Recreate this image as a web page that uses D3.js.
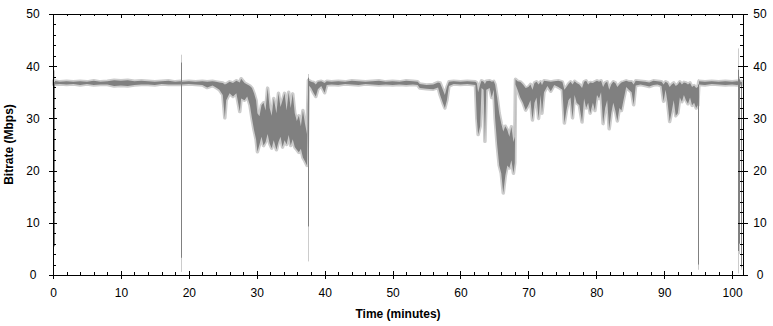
<!DOCTYPE html>
<html>
<head>
<meta charset="utf-8">
<script src="https://cdn.jsdelivr.net/npm/d3@7"></script>
<style>
  body { margin: 0; background: #fff; }
</style>
</head>
<body>
<div id="chart"></div>
<script>
// Sample times (minutes) with the lowest / highest bitrate (Mbps) seen around each one.
const timeMin = [
    0.1, 1, 2, 3, 4, 5, 6, 7, 8, 9,
    10, 11, 12, 13, 14, 15, 16, 17, 18, 18.8,
    19.0, 20, 21, 22, 22.7, 23.5, 24, 24.5, 25, 25.3,
    25.5, 26, 26.5, 27, 27.5, 27.7, 28.2, 28.6, 29.0, 29.3,
    29.6, 29.9, 30.1, 30.4, 30.7, 31.0, 31.3, 31.6, 31.9, 32.2,
    32.5, 32.9, 33.2, 33.5, 33.8, 34.1, 34.4, 34.7, 35.0, 35.3,
    35.6, 35.9, 36.2, 36.5, 36.8, 37.1, 37.4, 37.6, 38.0, 38.4,
    38.7, 39.0, 39.5, 40.0, 40.3, 41, 42, 43, 44, 45,
    46, 47, 48, 49, 50, 51, 52, 53, 53.7, 54.0,
    55, 56, 56.7, 57.0, 57.4, 57.7, 58.0, 58.3, 59, 60,
    61, 62.2, 62.4, 62.6, 62.9, 63.1, 63.4, 63.6, 63.8, 64.3,
    64.6, 64.9, 65.1, 65.4, 65.7, 66.0, 66.3, 66.6, 66.9, 67.2,
    67.5, 67.8, 68.0, 68.1, 68.4, 68.8, 69.2, 69.6, 70.0, 70.3,
    70.6, 70.9, 71.2, 71.5, 71.8, 72.0, 72.3, 72.8, 73.3, 73.8,
    74.4, 75.0, 75.3, 75.6, 75.9, 76.2, 76.5, 76.8, 77.1, 77.5,
    77.9, 78.2, 78.5, 78.8, 79.1, 79.5, 79.8, 80.1, 80.4, 80.7,
    81.0, 81.3, 81.6, 81.9, 82.2, 82.5, 82.8, 83.1, 83.4, 83.7,
    84.0, 84.4, 84.8, 85.2, 85.5, 85.8, 86.5, 87.2, 87.8, 88.4,
    89.0, 89.6, 89.9, 90.2, 90.5, 90.8, 91.1, 91.4, 91.7, 92.0,
    92.3, 92.6, 92.9, 93.2, 93.5, 93.8, 94.1, 94.4, 94.7, 94.95,
    95.1, 96, 97, 98, 99, 100, 100.7, 101.45
];
const rateLow = [
    36.5, 36.6, 36.5, 36.6, 36.4, 36.6, 36.4, 36.5, 36.5, 36.2,
    36.3, 36.2, 36.4, 36.5, 36.5, 36.4, 36.6, 36.5, 36.5, 36.5,
    36.5, 36.6, 36.5, 36.4, 35.9, 36.3, 35.9, 35.5, 34.5, 30.1,
    33.5, 34.8, 34.2, 34.8, 31.3, 33.8, 33.5, 34.2, 32.5, 30.0,
    27.8, 26.0, 23.6, 25.0, 26.5, 24.8, 25.5, 27.0, 25.2, 24.3,
    25.8, 24.0, 25.5, 26.5, 24.5, 25.8, 25.0, 26.8, 24.8, 26.0,
    24.5, 24.0, 23.5, 24.2, 22.5, 21.8, 21.0, 36.4, 35.8, 34.8,
    34.2, 35.6, 36.2, 34.9, 36.4, 36.5, 36.4, 36.6, 36.5, 36.4,
    36.6, 36.5, 36.4, 36.5, 36.4, 36.5, 36.4, 36.5, 36.4, 35.8,
    35.7, 35.6, 35.9, 34.5, 33.0, 32.0, 33.5, 36.2, 36.6, 36.5,
    36.6, 36.4, 30.0, 26.9, 28.5, 35.8, 35.5, 25.6, 35.5, 35.8,
    34.0, 35.5, 30.0, 25.0, 21.0, 19.5, 15.7, 19.0, 21.0, 20.5,
    22.0, 19.5, 21.5, 36.5, 35.5, 34.0, 33.0, 31.6, 32.5, 33.5,
    29.7, 33.0, 34.0, 30.0, 34.5, 31.0, 35.0, 36.2, 35.2, 36.4,
    36.0, 35.5, 29.1, 31.5, 33.5, 34.0, 30.1, 34.5, 33.0, 32.5,
    29.3, 33.8, 32.0, 33.0, 31.0, 33.0, 31.5, 34.5, 33.8, 35.0,
    29.0, 32.0, 33.5, 28.0, 31.0, 33.0, 31.5, 29.5, 32.0, 31.5,
    33.5, 36.0, 35.5, 35.0, 32.6, 36.3, 36.5, 36.3, 36.1, 36.4,
    36.5, 36.2, 33.3, 35.5, 33.0, 29.4, 31.3, 33.5, 30.5, 31.0,
    34.0, 33.2, 34.5, 33.5, 32.8, 34.0, 32.5, 33.0, 32.0, 32.5,
    36.5, 36.4, 36.6, 36.5, 36.4, 36.5, 36.4, 36.5
];
const rateHigh = [
    37.2, 37.0, 37.1, 37.0, 37.1, 37.0, 37.2, 37.0, 37.1, 37.3,
    37.2, 37.3, 37.1, 37.2, 37.1, 37.0, 37.1, 37.2, 37.0, 37.1,
    37.0, 37.1, 37.0, 37.1, 37.0, 37.1, 37.0, 36.9, 36.8, 36.5,
    36.6, 37.0, 36.8, 37.2, 36.9, 37.6, 36.8, 36.5, 36.2, 35.8,
    34.8, 33.5, 31.0, 30.4, 32.5, 33.0, 31.5, 35.8, 32.0, 30.5,
    33.8, 31.0, 34.8, 32.2, 33.5, 34.8, 31.5, 35.0, 32.0, 34.7,
    31.0, 29.5, 30.5, 28.5, 31.5, 29.0, 27.0, 37.3, 37.0, 36.9,
    36.5, 37.0, 37.1, 36.8, 37.1, 37.0, 37.1, 37.0, 37.2, 37.1,
    37.0, 37.1, 37.2, 37.0, 37.1, 37.0, 37.2, 37.1, 37.0, 36.6,
    36.4, 36.5, 36.9, 36.8, 35.5, 34.5, 36.0, 37.0, 37.1, 37.0,
    37.1, 37.0, 36.8, 35.0, 36.5, 37.2, 37.0, 36.6, 37.1, 37.2,
    37.0, 37.1, 36.5, 34.0, 31.0, 29.0, 27.5, 28.5, 27.8, 26.5,
    28.4, 25.5, 26.5, 37.5, 37.1, 37.0, 36.5, 35.8, 36.0, 36.5,
    35.5, 36.8, 37.0, 36.5, 37.0, 36.4, 37.2, 37.1, 37.0, 37.1,
    37.2, 37.0, 35.5, 36.0, 36.6, 37.0, 36.5, 37.1, 36.8, 36.5,
    35.8, 37.0, 37.2, 36.5, 36.9, 36.8, 37.0, 37.2, 37.0, 37.2,
    36.0, 36.8, 37.0, 35.5, 36.5, 37.0, 36.8, 36.0, 36.5, 36.9,
    37.0, 37.2, 37.0, 37.0, 36.5, 37.2, 37.1, 37.0, 36.9, 37.2,
    37.1, 37.0, 36.5, 37.0, 36.8, 36.0, 36.5, 36.8, 36.2, 36.5,
    37.0, 36.5, 36.9, 36.8, 36.5, 36.8, 36.0, 36.3, 35.8, 36.0,
    37.1, 37.0, 37.1, 37.0, 37.1, 37.0, 37.1, 37.0
];

// Single-sample dropouts / spikes, drawn as 1px vertical strokes.
const dropTime = [0.15, 18.9, 37.5, 95.0, 100.85, 101.05, 101.3];
const dropLow = [5.5, 3.3, 9.3, 2.0, 4.6, 6.0, 1.5];
const dropHigh = [37.0, 40.7, 37.8, 36.5, 39.3, 37.5, 37.0];
const dropLightLow = [5.5, 0.6, 2.6, 1.0, 0.3, 4.0, 1.0];
const dropLightHigh = [39.2, 42.2, 38.5, 37.5, 43.4, 38.0, 37.5];

const xTicks = [0, 10, 20, 30, 40, 50, 60, 70, 80, 90, 100];
const yTicks = [0, 10, 20, 30, 40, 50];

function BitrateChart({
    width=773,
    height=326,
    marginTop=14,
    marginRight=30,
    marginBottom=51,
    marginLeft=53,
    xDomain=[0, 101.6],
    yDomain=[0, 50],
    dark="#808080",
    light="#cccccc",
    font="'Liberation Sans', Arial, sans-serif"
}={}) {
    const xScale=d3.scaleLinear(xDomain, [marginLeft, width-marginRight]);
    const yScale=d3.scaleLinear(yDomain, [height-marginBottom, marginTop]);

    // minor ticks every 2 units, majors skipped
    const xMinor=d3.range(0, xDomain[1], 2).filter(d => d%10);
    const yMinor=d3.range(0, yDomain[1], 2).filter(d => d%10);

    const svg=d3.create("svg")
        .attr("width", width)
        .attr("height", height)
        .attr("viewBox", [0, 0, width, height]);

    // Bitrate envelope: light halo underneath, dark band on top.
    const I=d3.range(timeMin.length);
    const area=d3.area()
        .x(i => xScale(timeMin[i]))
        .y0(i => yScale(rateLow[i]))
        .y1(i => yScale(rateHigh[i]));

    svg.append("path")
        .attr("fill", light)
        .attr("stroke", light)
        .attr("stroke-width", 3.5)
        .attr("stroke-linejoin", "round")
        .attr("d", area(I));

    svg.append("path")
        .attr("fill", dark)
        .attr("d", area(I));

    const J=d3.range(dropTime.length);
    const px=j => Math.round(xScale(dropTime[j]))+0.5;

    svg.append("g")
        .attr("stroke", light)
      .selectAll("line")
      .data(J)
      .join("line")
        .attr("x1", px).attr("x2", px)
        .attr("y1", j => yScale(dropLightLow[j]))
        .attr("y2", j => yScale(dropLightHigh[j]));

    svg.append("g")
        .attr("stroke", dark)
      .selectAll("line")
      .data(J)
      .join("line")
        .attr("x1", px).attr("x2", px)
        .attr("y1", j => yScale(dropLow[j]))
        .attr("y2", j => yScale(dropHigh[j]));

    const styleAxis=g => g
        .attr("font-family", font)
        .attr("font-size", 12)
        .call(g => g.selectAll(".tick line").attr("shape-rendering", "crispEdges"))
        .call(g => g.select(".domain").attr("shape-rendering", "crispEdges"));
    const bare=g => g.call(g => g.select(".domain").remove()).call(g => g.selectAll("text").remove());

    // bottom
    const y0=height-marginBottom;
    svg.append("g")
        .attr("transform", `translate(0,${y0})`)
        .call(d3.axisBottom(xScale).tickValues(xTicks).tickSize(4).tickSizeOuter(0).tickPadding(9))
        .call(styleAxis);
    svg.append("g")
        .attr("transform", `translate(0,${y0})`)
        .call(d3.axisTop(xScale).tickValues(xTicks).tickSize(4))
        .call(bare).call(styleAxis);
    svg.append("g")
        .attr("transform", `translate(0,${y0})`)
        .call(d3.axisTop(xScale).tickValues(xMinor).tickSize(3))
        .call(bare).call(styleAxis);

    // top
    svg.append("g")
        .attr("transform", `translate(0,${marginTop})`)
        .call(d3.axisBottom(xScale).tickValues(xTicks).tickSize(4).tickSizeOuter(0))
        .call(g => g.selectAll("text").remove()).call(styleAxis);
    svg.append("g")
        .attr("transform", `translate(0,${marginTop})`)
        .call(d3.axisBottom(xScale).tickValues(xMinor).tickSize(2))
        .call(bare).call(styleAxis);

    // left
    svg.append("g")
        .attr("transform", `translate(${marginLeft},0)`)
        .call(d3.axisLeft(yScale).tickValues(yTicks).tickSize(4).tickSizeOuter(0))
        .call(styleAxis)
        .call(g => g.selectAll(".tick text").attr("text-anchor", "middle").attr("x", -20));
    svg.append("g")
        .attr("transform", `translate(${marginLeft},0)`)
        .call(d3.axisRight(yScale).tickValues(yTicks).tickSize(4))
        .call(bare).call(styleAxis);
    svg.append("g")
        .attr("transform", `translate(${marginLeft},0)`)
        .call(d3.axisRight(yScale).tickValues(yMinor).tickSize(3))
        .call(bare).call(styleAxis);

    // right
    const x1=width-marginRight;
    svg.append("g")
        .attr("transform", `translate(${x1},0)`)
        .call(d3.axisRight(yScale).tickValues(yTicks).tickSize(5).tickSizeOuter(0))
        .call(styleAxis)
        .call(g => g.selectAll(".tick text").attr("text-anchor", "middle").attr("x", 17));
    svg.append("g")
        .attr("transform", `translate(${x1},0)`)
        .call(d3.axisLeft(yScale).tickValues(yTicks).tickSize(5))
        .call(bare).call(styleAxis);
    svg.append("g")
        .attr("transform", `translate(${x1},0)`)
        .call(d3.axisLeft(yScale).tickValues(yMinor).tickSize(3))
        .call(bare).call(styleAxis);

    // axis titles
    svg.append("text")
        .attr("x", (marginLeft+x1)/2)
        .attr("y", 318)
        .attr("text-anchor", "middle")
        .attr("font-family", font)
        .attr("font-size", 12)
        .attr("font-weight", "bold")
        .text("Time (minutes)");

    svg.append("text")
        .attr("transform", `translate(13,${(marginTop+y0)/2}) rotate(-90)`)
        .attr("text-anchor", "middle")
        .attr("font-family", font)
        .attr("font-size", 12)
        .attr("font-weight", "bold")
        .text("Bitrate (Mbps)");

    return svg.node();
}

d3.select("#chart").append(() => BitrateChart());
</script>
</body>
</html>
